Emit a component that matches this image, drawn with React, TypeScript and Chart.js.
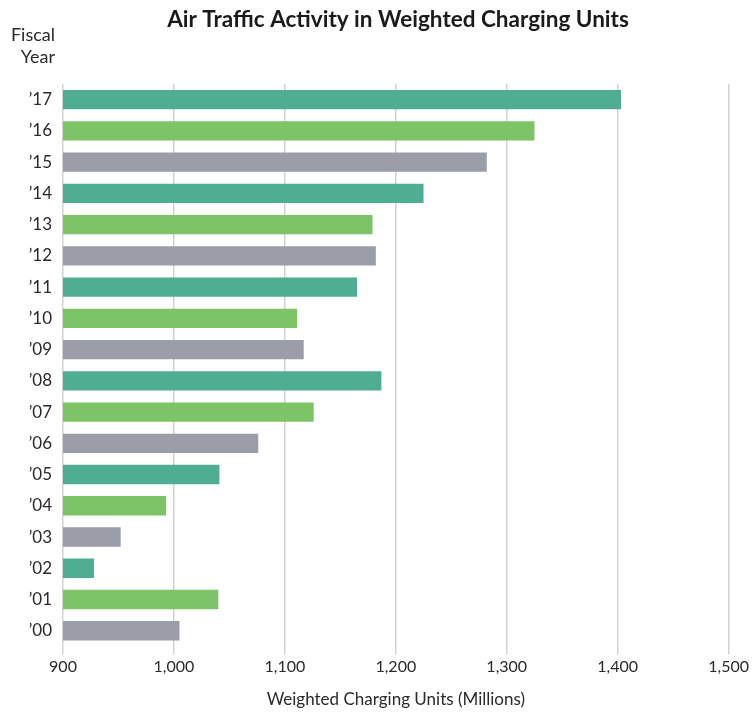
import React, { useEffect, useRef } from "react";
import { Chart, registerables } from "chart.js";

Chart.register(...registerables);

const TITLE = "Air Traffic Activity in Weighted Charging Units";
const Y_TITLE = ["Fiscal", "Year"];
const X_TITLE = "Weighted Charging Units (Millions)";

const years = ["’17", "’16", "’15", "’14", "’13", "’12", "’11", "’10", "’09", "’08", "’07", "’06", "’05", "’04", "’03", "’02", "’01", "’00"];
const wcu = [1403, 1325, 1282, 1225, 1179, 1182, 1165, 1111, 1117, 1187, 1126, 1076, 1041, 993, 952, 928, 1040, 1005];
const palette = ["#4fae91", "#7dc466", "#9b9da8"];
const barColors = years.map((_, i) => palette[i % 3]);

const FONT = "Lato, 'Open Sans', sans-serif";

export default function App() {
  const ref = useRef<HTMLCanvasElement>(null);
  useEffect(() => {
    document.body.style.margin = "0";
    const canvas = ref.current!;
    const textPlugin = {
      id: "texts",
      afterDraw(chart: any) {
        const ctx = chart.ctx;
        ctx.save();
        ctx.fillStyle = "#1a1a1a";
        ctx.font = `bold 22.5px ${FONT}`;
        ctx.textAlign = "center";
        ctx.textBaseline = "middle";
        ctx.fillText(TITLE, 398, 20);
        ctx.fillStyle = "#2a2a2a";
        ctx.font = `18px ${FONT}`;
        ctx.textAlign = "right";
        ctx.fillText(Y_TITLE[0], 55, 35);
        ctx.fillText(Y_TITLE[1], 55, 57);
        ctx.restore();
      },
    };
    const chart = new Chart(canvas, {
      type: "bar",
      data: {
        labels: years,
        datasets: [
          {
            data: wcu,
            backgroundColor: barColors,
            barPercentage: 0.62,
            categoryPercentage: 1,
          },
        ],
      },
      options: {
        indexAxis: "y",
        responsive: false,
        animation: false,
        layout: { padding: { top: 84, right: 17, bottom: 3, left: 0 } },
        plugins: { legend: { display: false }, tooltip: { enabled: false } },
        scales: {
          x: {
            min: 900,
            max: 1500,
            ticks: {
              stepSize: 100,
              color: "#2a2a2a",
              font: { family: FONT, size: 16 },
              padding: 3,
            },
            grid: { color: "#d2d2d2", lineWidth: 1.5, tickLength: 8 },
            border: { display: false },
            title: {
              display: true,
              text: X_TITLE,
              color: "#2a2a2a",
              font: { family: FONT, size: 17 },
              padding: { top: 10, bottom: 0 },
            },
          },
          y: {
            grid: { display: false, drawTicks: false },
            border: { display: false },
            ticks: {
              color: "#2a2a2a",
              font: { family: FONT, size: 17 },
              padding: 11,
            },
            afterFit(scale: any) {
              scale.width = 63;
            },
          },
        },
      },
      plugins: [textPlugin],
    });
    return () => chart.destroy();
  }, []);
  return <canvas ref={ref} width={752} height={713} style={{ display: "block" }} />;
}
